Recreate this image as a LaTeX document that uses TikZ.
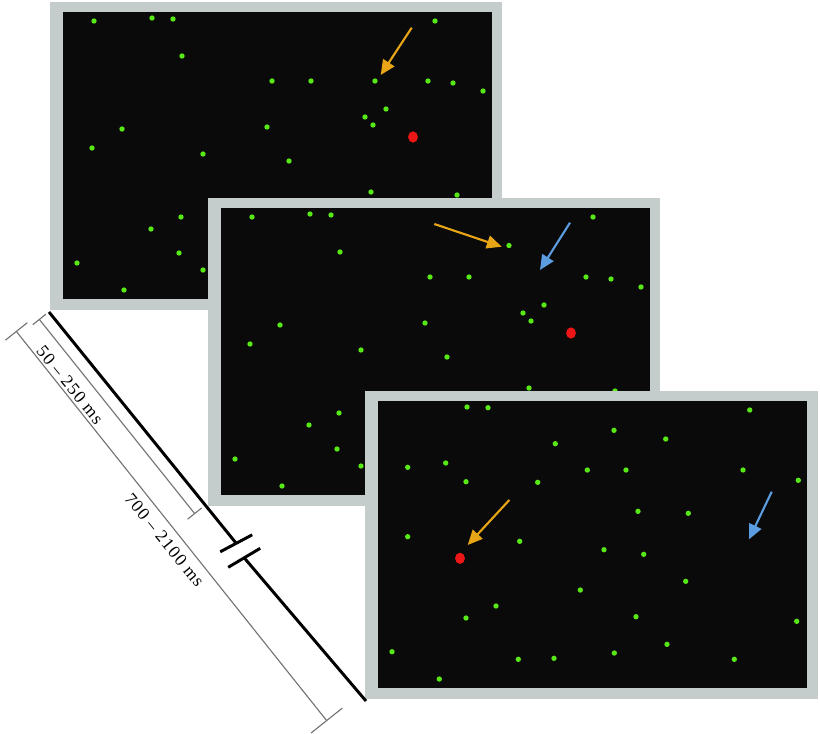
\documentclass[tikz,border=0pt]{standalone}
\usepackage{fontspec}
\setmainfont{Liberation Serif}
\newfontfamily\msfont[LetterSpace=7]{Liberation Serif}
\usetikzlibrary{arrows.meta, positioning, calc}

\definecolor{bezel}{RGB}{196,205,203}
\definecolor{screen}{RGB}{10,10,10}
\definecolor{dotgreen}{RGB}{88,232,22}
\definecolor{dotred}{RGB}{236,22,22}
\definecolor{cueorange}{RGB}{232,165,22}
\definecolor{cueblue}{RGB}{92,156,224}
\definecolor{rulegray}{RGB}{115,115,115}

% dot field shared by the first two displays (display 1 coordinates)
\newcommand{\fieldpts}{94/21, 152/18, 173/19, 182/56, 435/21, 272/81, 311/81,
  428/81, 453/83, 483/91, 386/109, 365/117, 373/125, 122/129, 92/148,
  203/154, 267/127, 289/161, 371/192, 457/195, 181/217, 151/229, 179/253,
  77/263, 203/270, 124/290}

\begin{document}
\begin{tikzpicture}[
    x=0.025cm, y=-0.025cm,
    bezelbox/.style={fill=bezel},
    screenbox/.style={fill=screen},
    gdot/.style={fill=dotgreen},
    rdot/.style={fill=dotred},
    cue/.style={-{Triangle[length=0.37cm, width=0.33cm]}, line width=1.5pt},
    cueO/.style={cue, cueorange},
    cueB/.style={cue, cueblue},
    tline/.style={line width=2.1pt, black},
    spanline/.style={rulegray, line width=0.8pt},
    lbl/.style={font={\msfont\fontsize{12.5}{14}\selectfont}, inner sep=0pt, rotate=-50.8},
]

\useasboundingbox (0,0) rectangle (820,733);

% Display 1
\fill[bezelbox] (50,2) rectangle (502,310);
\fill[screenbox] (63,12) rectangle (492,299);
\foreach \x/\y in \fieldpts
    \fill[gdot] (\x,\y) circle[radius=1.9pt];
\fill[gdot] (375,81) circle[radius=1.9pt];
\fill[rdot] (413,137) ellipse[x radius=3.5pt, y radius=4pt];
\coordinate (c1a) at (411.7,27.7);
\coordinate (c1b) at (380.7,75);
\draw[cueO] (c1a) -- (c1b);

% Display 2: same field, one dot moved
\fill[bezelbox] (208,198) rectangle (660,506);
\fill[screenbox] (221,208) rectangle (650,495);
\begin{scope}[shift={(158,196)}]
  \foreach \x/\y in \fieldpts
      \fill[gdot] (\x,\y) circle[radius=1.9pt];
  \fill[gdot] (351,49.5) circle[radius=1.9pt];
  \fill[rdot] (413,137) ellipse[x radius=3.5pt, y radius=4pt];
\end{scope}
\coordinate (c2a) at (434.3,224);
\coordinate (c2b) at (501.7,246.7);
\coordinate (c2c) at (570,222.7);
\coordinate (c2d) at (540,270);
\draw[cueO] (c2a) -- (c2b);
\draw[cueB] (c2c) -- (c2d);

% Display 3
\fill[bezelbox] (365,391) rectangle (818,699);
\fill[screenbox] (378,401) rectangle (807,688);
\foreach \x/\y in {467/407, 488/407.7, 749.7/410, 614/430.3, 665.7/439,
    555.3/443.7, 407.7/467.3, 445.7/463, 587.3/470, 626/470, 743/470,
    798.3/480.3, 466/481.7, 537.7/482.3, 638/511.3, 688.3/513.3,
    407.7/536.7, 519.7/541.3, 604/549.7, 643.7/554.3, 685.7/581.3,
    580.3/590, 496/606, 466/618, 636/616.7, 796.7/621.3, 667/644.3,
    392/651.7, 614.3/653, 518.3/659.3, 554/658.3, 734.3/659.3, 439.3/679}
    \fill[gdot] (\x,\y) circle[radius=1.9pt];
\fill[rdot] (460,558.3) ellipse[x radius=3.5pt, y radius=4pt];
\coordinate (c3a) at (509.3,500);
\coordinate (c3b) at (467.7,545);
\coordinate (c3c) at (771.7,491.7);
\coordinate (c3d) at (749,539.3);
\draw[cueO] (c3a) -- (c3b);
\draw[cueB] (c3c) -- (c3d);

% === TIME AXIS ===
\coordinate (t0) at (49,312);
\coordinate (t1) at (366,701);
\coordinate (brkA) at (236.2,543.3);
\coordinate (brkB) at (244.2,557.8);
\draw[tline] (t0) -- (brkA);
\draw[tline] (brkB) -- (t1);
\draw[tline] ($(brkA)+(-16,8.5)$) -- ($(brkA)+(16,-8.5)$);
\draw[tline] ($(brkB)+(-16,9.5)$) -- ($(brkB)+(16,-9.5)$);

% intervals
\coordinate (b1a) at (39,319);
\coordinate (b1b) at (195,514);
\coordinate (b2a) at (16,331);
\coordinate (b2b) at (327,721);
\draw[spanline, {Bar[width=0.42cm]}-{Bar[width=0.45cm]}] (b1a) -- (b1b);
\draw[spanline, {Bar[width=0.7cm]}-{Bar[width=1.0cm]}] (b2a) -- (b2b);
\node[lbl] (lblA) at (70,385) {50 – 250 ms};
\node[lbl] (lblB) at (164.5,540) {700 – 2100 ms};

\end{tikzpicture}
\end{document}
